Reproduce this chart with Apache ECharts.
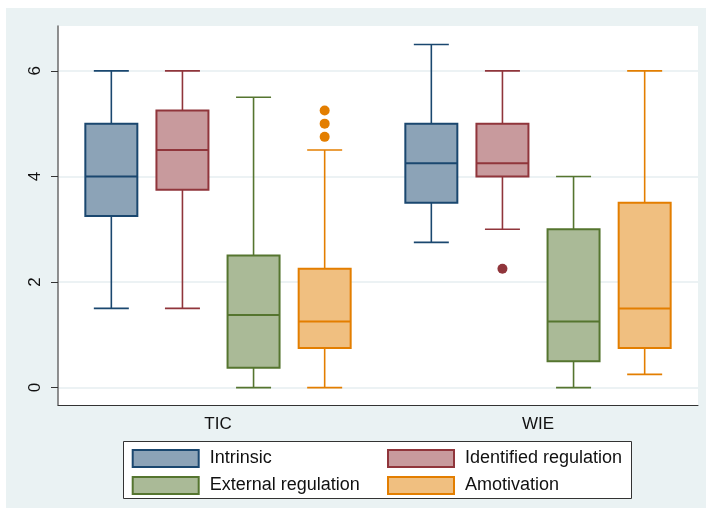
<!DOCTYPE html>
<html><head><meta charset="utf-8">
<script src="https://cdn.jsdelivr.net/npm/echarts@6/dist/echarts.min.js"></script>
<style>html,body{margin:0;padding:0;background:#fff}#c{width:706px;height:509px}</style>
</head><body><div id="c"></div>
<script>
// ---- data ----
const groups = ['TIC', 'WIE'];
const seriesNames = ['Intrinsic', 'Identified regulation', 'External regulation', 'Amotivation'];
// [min, Q1, median, Q3, max] for TIC, WIE
const intrinsic   = [[1.5, 3.25, 4, 5, 6],        [2.75, 3.5, 4.25, 5, 6.5]];
const identified  = [[1.5, 3.75, 4.5, 5.25, 6],   [3, 4, 4.25, 5, 6]];
const external    = [[0, 0.375, 1.375, 2.5, 5.5], [0, 0.5, 1.25, 3, 4]];
const amotivation = [[0, 0.75, 1.25, 2.25, 4.5],  [0.25, 0.75, 1.5, 3.5, 6]];
// outliers: [group, series index, value]
const outliers = [['TIC', 3, 4.75], ['TIC', 3, 5.0], ['TIC', 3, 5.25], ['WIE', 1, 2.25]];
const yTicks = [0, 2, 4, 6];

// ---- styles ----
const lineColors = ['#1A476F', '#90353B', '#55752F', '#E37E00'];
const fillColors = ['#8CA3B7', '#C89A9D', '#AABA97', '#F0BF80'];
const SPACING = 2 / 9;   // box spacing as fraction of band width
const BOX_W = 52, CAP_W = 35;
const FONT = "'Liberation Sans', Arial, sans-serif";

const allSeries = [intrinsic, identified, external, amotivation];

function makeRender(sIdx) {
  return function (params, api) {
    const g = api.value(0);
    const band = api.size([1, 0])[0];
    const cx = api.coord([g, 0])[0] + (sIdx - 1.5) * band * SPACING;
    const y = [1, 2, 3, 4, 5].map(d => api.coord([g, api.value(d)])[1]);
    const stroke = lineColors[sIdx];
    const lw = 1.6;
    const hw = BOX_W / 2, cw = CAP_W / 2;
    return {
      type: 'group',
      children: [
        { type: 'line', shape: { x1: cx, y1: y[4], x2: cx, y2: y[3] }, style: { stroke, lineWidth: lw } },
        { type: 'line', shape: { x1: cx, y1: y[1], x2: cx, y2: y[0] }, style: { stroke, lineWidth: lw } },
        { type: 'line', shape: { x1: cx - cw, y1: y[4], x2: cx + cw, y2: y[4] }, style: { stroke, lineWidth: lw } },
        { type: 'line', shape: { x1: cx - cw, y1: y[0], x2: cx + cw, y2: y[0] }, style: { stroke, lineWidth: lw } },
        { type: 'rect', shape: { x: cx - hw, y: y[3], width: BOX_W, height: y[1] - y[3] },
          style: { fill: fillColors[sIdx], stroke, lineWidth: 2 } },
        { type: 'line', shape: { x1: cx - hw, y1: y[2], x2: cx + hw, y2: y[2] }, style: { stroke, lineWidth: 2 } }
      ]
    };
  };
}

const series = allSeries.map((arr, sIdx) => ({
  type: 'custom',
  name: seriesNames[sIdx],
  data: arr.map((d, i) => [i].concat(d)),
  encode: { x: 0, y: [1, 2, 3, 4, 5] },
  renderItem: makeRender(sIdx),
  z: 3
}));

series.push({
  type: 'custom',
  name: 'outliers',
  data: outliers.map(o => [groups.indexOf(o[0]), o[1], o[2]]),
  encode: { x: 0, y: 2 },
  z: 4,
  renderItem: function (params, api) {
    const g = api.value(0), s = api.value(1);
    const band = api.size([1, 0])[0];
    const p = api.coord([g, api.value(2)]);
    const cx = p[0] + (s - 1.5) * band * SPACING;
    return { type: 'circle', shape: { cx, cy: p[1], r: 5 }, style: { fill: lineColors[s] } };
  }
});

function legendData(idxs) {
  return idxs.map(i => ({
    name: seriesNames[i],
    icon: 'rect',
    itemStyle: { color: fillColors[i], borderColor: lineColors[i], borderWidth: 2 }
  }));
}
const legendCommon = {
  orient: 'vertical', top: 449, itemWidth: 66, itemHeight: 17, itemGap: 8, padding: 0,
  selectedMode: false,
  textStyle: { fontSize: 18, lineHeight: 17, color: '#111', fontFamily: FONT, padding: [0, 0, 0, 6] }
};

const chart = echarts.init(document.getElementById('c'), null, { renderer: 'canvas' });
chart.setOption({
  animation: false,
  backgroundColor: '#fff',
  graphic: [
    { type: 'rect', z: -10, shape: { x: 6, y: 8, width: 700, height: 500 }, style: { fill: '#EAF2F3' } },
    { type: 'rect', z: 0, shape: { x: 123.5, y: 441.5, width: 508, height: 57 }, style: { fill: '#fff', stroke: '#333', lineWidth: 1 } }
  ],
  grid: { left: 58, top: 26, right: 8, bottom: 104, show: true, backgroundColor: '#fff', borderWidth: 0 },
  legend: [
    Object.assign({ left: 131.7, data: legendData([0, 2]) }, legendCommon),
    Object.assign({ left: 387, data: legendData([1, 3]) }, legendCommon)
  ],
  xAxis: {
    type: 'category', data: groups,
    axisTick: { show: false },
    axisLine: { onZero: false, lineStyle: { color: '#333', width: 1 } },
    axisLabel: { fontSize: 17, color: '#111', fontFamily: FONT, margin: 11 },
    splitLine: { show: false }
  },
  yAxis: {
    type: 'value', min: -0.33, max: 6.85,
    axisLine: { show: true, lineStyle: { color: '#6b6b6b', width: 1.5 } },
    axisTick: { show: true, length: 7, customValues: yTicks, lineStyle: { color: '#333' } },
    axisLabel: { customValues: yTicks, rotate: 90, fontSize: 17, color: '#111', fontFamily: FONT, margin: 14 },
    splitLine: { show: true, lineStyle: { color: '#E6EEF1', width: 1.5 } }
  },
  series: series
});
</script></body></html>
